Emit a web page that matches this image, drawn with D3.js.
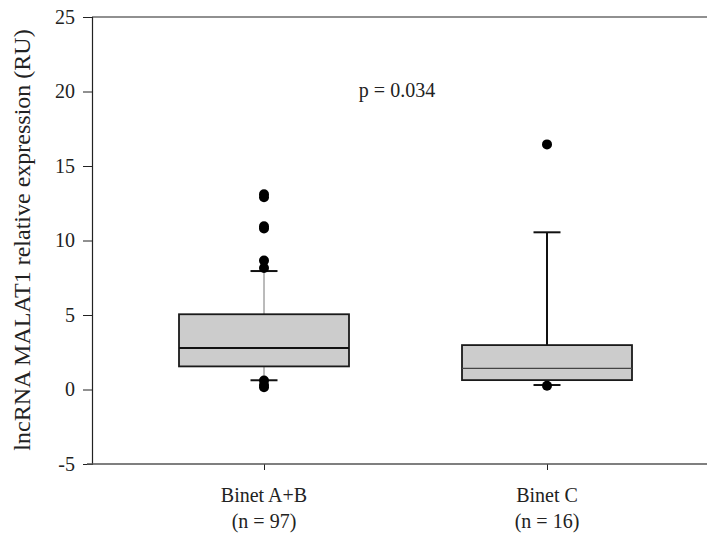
<!DOCTYPE html>
<html><head><meta charset="utf-8">
<script src="https://cdn.jsdelivr.net/npm/d3@7"></script>
<style>body{margin:0;background:#fff}</style>
</head><body>
<svg id="c" width="707" height="538"></svg>
<script>
const categories = ["Binet A+B", "Binet C"];
const nLabels = ["(n = 97)", "(n = 16)"];
const q1 = [1.55, 0.63];
const medians = [2.78, 1.42];
const q3 = [5.05, 2.98];
const whiskerLow = [0.62, 0.3];
const whiskerHigh = [7.95, 10.55];
const outliers = [[13.1, 12.9, 10.95, 10.8, 8.65, 8.15, 0.6, 0.3, 0.15], [16.45, 0.25]];
const yTicks = [-5, 0, 5, 10, 15, 20, 25];
const pText = "p = 0.034";

const svg = d3.select("#c");
const mLeft = 92, mRight = 707, mTop = 17, mBottom = 464;
const y = d3.scaleLinear().domain([-5, 25]).range([mBottom, mTop]);
const x = d3.scaleLinear().domain([0, 1]).range([264, 547]);
const boxW = 170, capW = 27;
const font = "Liberation Serif, Times New Roman, serif";

svg.append("line").attr("x1", mLeft).attr("x2", mRight).attr("y1", mTop).attr("y2", mTop)
  .attr("stroke", "#222").attr("stroke-width", 1.2);
const yAxis = d3.axisLeft(y).tickValues(yTicks).tickSize(9).tickPadding(8).tickFormat(d => String(d));
const gy = svg.append("g").attr("transform", `translate(${mLeft},0)`).call(yAxis)
  .attr("font-family", font).attr("font-size", 20);
gy.select(".domain").attr("stroke", "#222").attr("stroke-width", 1.2);
gy.selectAll(".tick line").attr("stroke", "#222");
gy.selectAll("text").attr("fill", "#222");

const xAxis = d3.axisBottom(x).tickValues([0, 1]).tickSize(6).tickFormat("");
const gx = svg.append("g").attr("transform", `translate(0,${mBottom})`).call(xAxis);
gx.select(".domain").remove();
gx.selectAll(".tick line").attr("stroke", "#222");
svg.append("line").attr("x1", mLeft - 5).attr("x2", mRight).attr("y1", mBottom).attr("y2", mBottom)
  .attr("stroke", "#555").attr("stroke-width", 1.5);

const whiskerStyle = [{c: "#777", w: 1}, {c: "#111", w: 2}];
const medianStyle = [{c: "#111", w: 2}, {c: "#444", w: 1.2}];

categories.forEach((cat, i) => {
  const cx = x(i);
  const g = svg.append("g");
  g.append("line").attr("x1", cx).attr("x2", cx).attr("y1", y(q3[i])).attr("y2", y(whiskerHigh[i]))
    .attr("stroke", whiskerStyle[i].c).attr("stroke-width", whiskerStyle[i].w);
  g.append("line").attr("x1", cx).attr("x2", cx).attr("y1", y(q1[i])).attr("y2", y(whiskerLow[i]))
    .attr("stroke", whiskerStyle[i].c).attr("stroke-width", whiskerStyle[i].w);
  [whiskerHigh[i], whiskerLow[i]].forEach(v => {
    g.append("line").attr("x1", cx - capW / 2).attr("x2", cx + capW / 2).attr("y1", y(v)).attr("y2", y(v))
      .attr("stroke", "#111").attr("stroke-width", 2);
  });
  g.append("rect").attr("x", cx - boxW / 2).attr("width", boxW)
    .attr("y", y(q3[i])).attr("height", y(q1[i]) - y(q3[i]))
    .attr("fill", "#cccccc").attr("stroke", "#1a1a1a").attr("stroke-width", 1.8);
  g.append("line").attr("x1", cx - boxW / 2).attr("x2", cx + boxW / 2)
    .attr("y1", y(medians[i])).attr("y2", y(medians[i]))
    .attr("stroke", medianStyle[i].c).attr("stroke-width", medianStyle[i].w);
  g.selectAll("circle").data(outliers[i]).join("circle")
    .attr("cx", cx).attr("cy", d => y(d)).attr("r", 5).attr("fill", "#000");
  svg.append("text").attr("x", cx).attr("y", 502).attr("text-anchor", "middle")
    .attr("font-family", font).attr("font-size", 20).attr("fill", "#222").text(cat);
  svg.append("text").attr("x", cx).attr("y", 528).attr("text-anchor", "middle")
    .attr("font-family", font).attr("font-size", 20).attr("fill", "#222").text(nLabels[i]);
});

svg.append("text").attr("x", 397).attr("y", 97).attr("text-anchor", "middle")
  .attr("font-family", font).attr("font-size", 20).attr("fill", "#222").text(pText);

svg.append("text").attr("transform", "translate(30,240) rotate(-90)").attr("text-anchor", "middle")
  .attr("font-family", font).attr("font-size", 24).attr("fill", "#222")
  .text("lncRNA MALAT1 relative expression (RU)");
</script>
</body></html>
